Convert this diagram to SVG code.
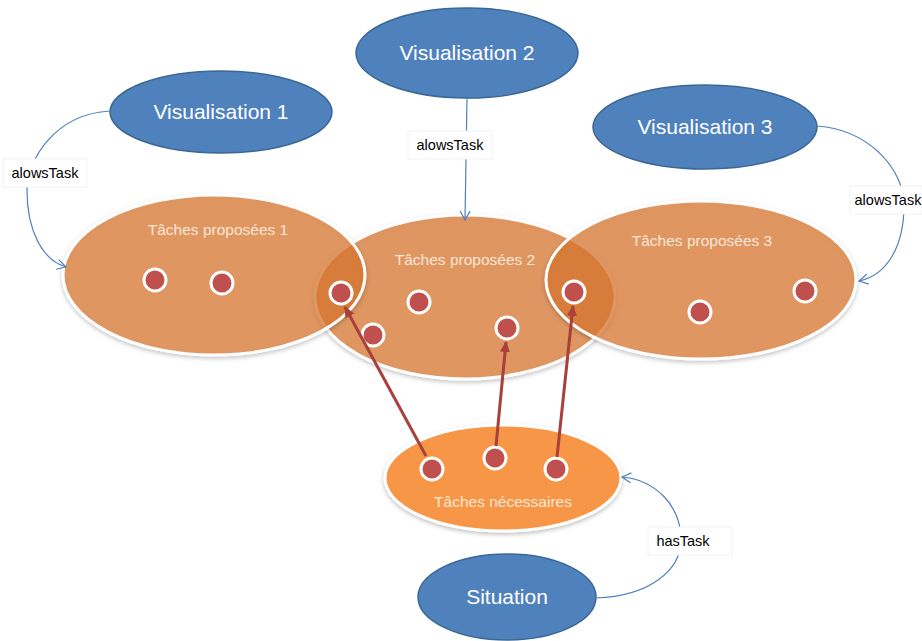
<svg xmlns="http://www.w3.org/2000/svg" width="922" height="641" viewBox="0 0 922 641">
<defs>
<style>
.blue{fill:#4F81BD;stroke:#3B6795;stroke-width:1.5}
.btxt{font-family:"Liberation Sans",Arial,sans-serif;font-size:21px;fill:#fff;text-anchor:middle}
.prop{fill:#DC7830;fill-opacity:0.7;stroke:#fff;stroke-width:3}
.nec{fill:#F79646;stroke:#fff;stroke-width:3}
.otxt{font-family:"Liberation Sans",Arial,sans-serif;font-size:15.5px;fill:#FBE6D6;text-anchor:middle}
.dot{fill:#C0504D;stroke:#fff;stroke-width:3}
.conn{fill:none;stroke:#4F81BD;stroke-width:1.2}
.red{fill:none;stroke:#A8403C;stroke-width:3}
.lbox{fill:#fff;stroke:#F2F2F2;stroke-width:1}
.ltxt{font-family:"Liberation Sans",Arial,sans-serif;font-size:14.5px;fill:#000;text-anchor:middle}
</style>
<marker id="open" markerWidth="12" markerHeight="12" refX="10" refY="6" orient="auto" markerUnits="userSpaceOnUse">
<path d="M1,1 L10,6 L1,11" fill="none" stroke="#4F81BD" stroke-width="1.2"/>
</marker>
<marker id="redhead" markerWidth="12" markerHeight="12" refX="10" refY="6" orient="auto" markerUnits="userSpaceOnUse">
<path d="M0,1 L11,6 L0,11 Z" fill="#A8403C"/>
</marker>
<filter id="sh" x="-10%" y="-10%" width="120%" height="130%">
<feDropShadow dx="0" dy="2" stdDeviation="2" flood-color="#000" flood-opacity="0.25"/>
</filter>
</defs>

<g id="tp2"><ellipse class="prop" cx="465" cy="297" rx="150" ry="82" filter="url(#sh)"/><text class="otxt" x="465" y="265">Tâches proposées 2</text></g>
<g id="tp1"><ellipse class="prop" cx="214" cy="275" rx="151" ry="80" filter="url(#sh)"/><text class="otxt" x="218" y="235">Tâches proposées 1</text></g>
<g id="tp3"><ellipse class="prop" cx="701" cy="280" rx="155" ry="79" filter="url(#sh)"/><text class="otxt" x="702" y="246">Tâches proposées 3</text></g>
<g id="nec"><ellipse class="nec" cx="503" cy="478" rx="118" ry="53" filter="url(#sh)"/><text class="otxt" x="503" y="507">Tâches nécessaires</text></g>

<g id="dots">
<circle class="dot" cx="155" cy="280" r="11"/>
<circle class="dot" cx="222" cy="283" r="11"/>
<circle class="dot" cx="341" cy="293" r="11"/>
<circle class="dot" cx="419" cy="302" r="11"/>
<circle class="dot" cx="373" cy="335" r="11"/>
<circle class="dot" cx="507" cy="328" r="11"/>
<circle class="dot" cx="574" cy="292" r="11"/>
<circle class="dot" cx="700" cy="312" r="11"/>
<circle class="dot" cx="805" cy="291" r="11"/>
<circle class="dot" cx="432" cy="469" r="11"/>
<circle class="dot" cx="495" cy="458" r="11"/>
<circle class="dot" cx="556" cy="469" r="11"/>
</g>

<g id="v1"><ellipse class="blue" cx="221" cy="112" rx="111" ry="41"/><text class="btxt" x="221" y="119">Visualisation 1</text></g>
<g id="v2"><ellipse class="blue" cx="467" cy="53" rx="111" ry="45"/><text class="btxt" x="467" y="60">Visualisation 2</text></g>
<g id="v3"><ellipse class="blue" cx="705" cy="127" rx="112" ry="42"/><text class="btxt" x="705" y="134">Visualisation 3</text></g>
<g id="sit"><ellipse class="blue" cx="507" cy="597" rx="89" ry="43"/><text class="btxt" x="507" y="604">Situation</text></g>

<g id="connectors">
<path class="conn" d="M110,111 C55,114 27,160 27,190 C27,230 42,260 66,267" marker-end="url(#open)"/>
<path class="conn" d="M467,98 L465,220" marker-end="url(#open)"/>
<path class="conn" d="M817,126 C870,130 904,170 904,205 C904,245 888,275 859,281" marker-end="url(#open)"/>
<path class="conn" d="M596,598 C650,596 681,570 681,540 C681,505 655,480 622,477" marker-end="url(#open)"/>
<path class="red" d="M426,456 L345,307" marker-end="url(#redhead)"/>
<path class="red" d="M496,446 L506,342" marker-end="url(#redhead)"/>
<path class="red" d="M557,457 L573,306" marker-end="url(#redhead)"/>
<g id="labels">
<rect class="lbox" x="3" y="159" width="84" height="28"/><text class="ltxt" x="45" y="178">alowsTask</text>
<rect class="lbox" x="408" y="131" width="84" height="28"/><text class="ltxt" x="450" y="150">alowsTask</text>
<rect class="lbox" x="850" y="186" width="72" height="28"/><text class="ltxt" x="888" y="205">alowsTask</text>
<rect class="lbox" x="648" y="527" width="84" height="28"/><text class="ltxt" x="683" y="546">hasTask</text>
</g>
</g>
</svg>
